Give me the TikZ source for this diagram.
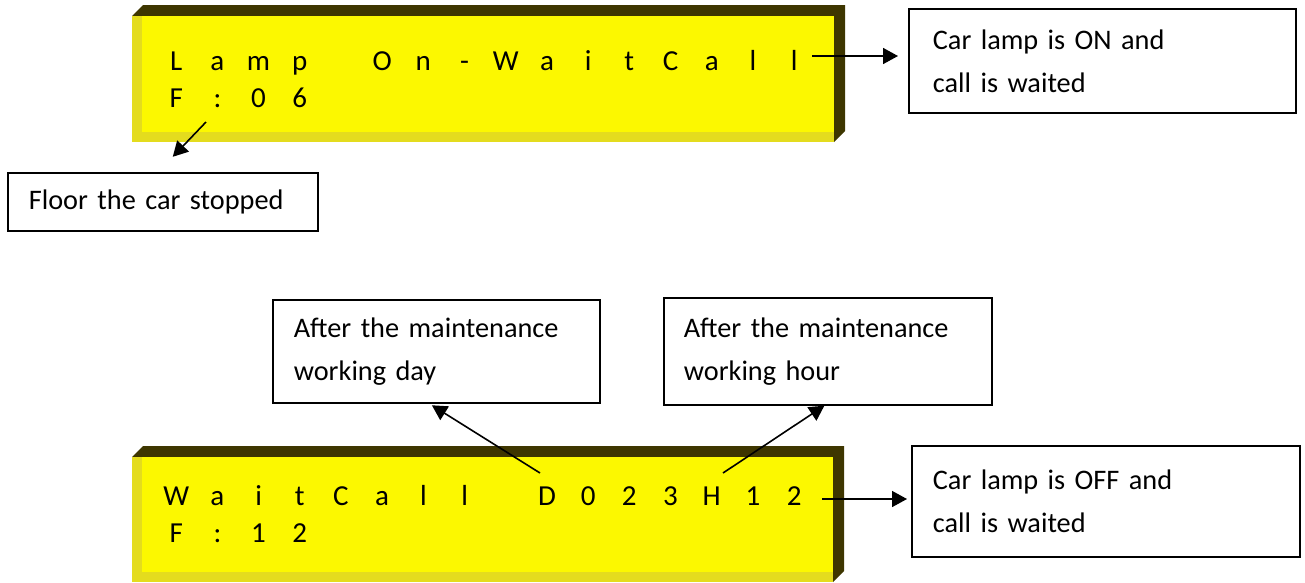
\documentclass[tikz,border=0pt]{standalone}
\usepackage{fontspec}
\setmainfont{Carlito}
\usetikzlibrary{arrows.meta,calc}
\definecolor{lcdyellow}{RGB}{252,248,0}
\definecolor{lcdedge}{RGB}{228,220,30}
\definecolor{lcddark}{RGB}{62,54,0}
\newcommand\lcdcell[1]{\makebox[41.2pt][c]{#1}}
\begin{document}
\begin{tikzpicture}[x=1pt,y=-1pt,
 lcdface/.style={fill=lcdyellow},
 lcdside/.style={fill=lcddark},
 lcdstrip/.style={fill=lcdedge},
 lcdtext/.style={inner sep=0pt, anchor=base west, font=\fontsize{29}{34}\selectfont},
 note/.style={draw, line width=1.7pt, anchor=north west, inner xsep=21pt, inner ysep=0pt, align=left, font=\fontsize{28.3}{43}\selectfont},
 arr/.style={line width=1.6pt, -{Triangle[length=15pt,width=16pt]}}]
\useasboundingbox (0,0) rectangle (1305,582);
% top LCD
\fill[lcdside] (132,16) -- (143,5) -- (845,5) -- (845,131) -- (834,142) -- (834,16) -- cycle;
\fill[lcdface] (132,16) rectangle (834,142);
\fill[lcdstrip] (132,16) rectangle (142,142);
\fill[lcdstrip] (132,132) rectangle (834,142);
\node[lcdtext] (aRowOne) at (155.4,70) {\lcdcell{L}\lcdcell{a}\lcdcell{m}\lcdcell{p}\lcdcell{}\lcdcell{O}\lcdcell{n}\lcdcell{-}\lcdcell{W}\lcdcell{a}\lcdcell{i}\lcdcell{t}\lcdcell{C}\lcdcell{a}\lcdcell{l}\lcdcell{l}};
\node[lcdtext] (aRowTwo) at (155.4,107) {\lcdcell{F}\lcdcell{:}\lcdcell{0}\lcdcell{6}};
% bottom LCD
\fill[lcdside] (132,457) -- (143,446) -- (844,446) -- (844,571) -- (833,582) -- (833,457) -- cycle;
\fill[lcdface] (132,457) rectangle (833,582);
\fill[lcdstrip] (132,457) rectangle (142,582);
\fill[lcdstrip] (132,572) rectangle (833,582);
\node[lcdtext] (bRowOne) at (155.4,505) {\lcdcell{W}\lcdcell{a}\lcdcell{i}\lcdcell{t}\lcdcell{C}\lcdcell{a}\lcdcell{l}\lcdcell{l}\lcdcell{}\lcdcell{D}\lcdcell{0}\lcdcell{2}\lcdcell{3}\lcdcell{H}\lcdcell{1}\lcdcell{2}};
\node[lcdtext] (bRowTwo) at (155.4,542) {\lcdcell{F}\lcdcell{:}\lcdcell{1}\lcdcell{2}};
% notes
\node[note, text width=339pt, minimum height=104pt, inner xsep=24pt] (boxOn) at (908,8) {Car lamp is ON and\\call is waited};
\node[note, text width=346pt, minimum height=111pt] (boxOff) at (911,445) {Car lamp is OFF and\\call is waited};
\node[note, text width=268pt, minimum height=58pt] (boxFloor) at (7,172) {Floor the car stopped};
\node[note, text width=285pt, minimum height=103pt] (boxDay) at (272,299) {After the maintenance\\working day};
\node[note, text width=288pt, minimum height=107pt, inner xsep=20pt] (boxHour) at (663,297) {After the maintenance\\working hour};
% arrows
\coordinate (onS) at (812,56);
\draw[arr, shorten >=10pt] (onS) -- (onS -| boxOn.west);
\coordinate (offS) at (822,499);
\draw[arr, shorten >=4pt] (offS) -- (offS -| boxOff.west);
\coordinate (floorS) at (206,122);
\draw[arr, shorten >=21pt] (floorS) -- ($(boxFloor.north)+(-4.6,0)$);
\coordinate (dayS) at (540,473);
\draw[arr, shorten >=3pt] (dayS) -- ($(boxDay.south)+(-7,0)$);
\coordinate (hourS) at (723,473);
\draw[arr] (hourS) -- ($(boxHour.south)+(-3.5,0)$);
\end{tikzpicture}
\end{document}
